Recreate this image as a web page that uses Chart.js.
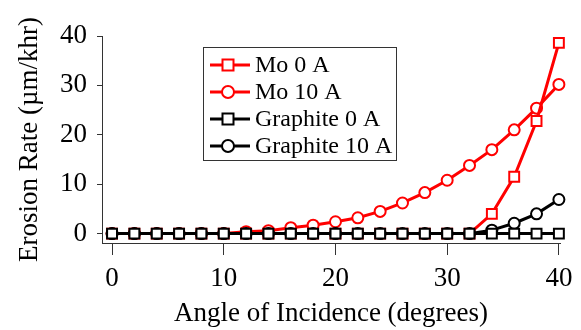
<!DOCTYPE html>
<html>
<head>
<meta charset="utf-8">
<script src="https://cdn.jsdelivr.net/npm/chart.js@4/dist/chart.umd.min.js"></script>
<style>
  html, body { margin: 0; padding: 0; background: #fff; }
  #wrap { width: 581px; height: 330px; }
</style>
</head>
<body>
<div id="wrap"><canvas id="erosionChart" width="581" height="330"></canvas></div>
<script>
// angle of incidence (degrees)
const angles = [0, 2, 4, 6, 8, 10, 12, 14, 16, 18, 20, 22, 24, 26, 28, 30, 32, 34, 36, 38, 40];

// erosion rate (um/khr)
const mo0A = [0, 0, 0, 0, 0, 0, 0, 0, 0, 0, 0, 0, 0, 0, 0, 0, 0, 4.0, 11.5, 22.8, 38.6];
const mo10A = [0, 0, 0, 0, 0, 0, 0.4, 0.6, 1.2, 1.7, 2.4, 3.2, 4.5, 6.2, 8.3, 10.8, 13.8, 17.0, 21.0, 25.4, 30.2];
const graphite0A = [0, 0, 0, 0, 0, 0, 0, 0, 0, 0, 0, 0, 0, 0, 0, 0, 0, 0, 0, 0, 0];
const graphite10A = [0, 0, 0, 0, 0, 0, 0, 0, 0, 0, 0, 0, 0, 0, 0, 0, 0, 0.7, 2.1, 4.0, 6.9];

const seriesNames = ["Mo 0 A", "Mo 10 A", "Graphite 0 A", "Graphite 10 A"];
const xTicks = [0, 10, 20, 30, 40];
const yTicks = [0, 10, 20, 30, 40];

const FONT = "'Liberation Serif', 'Times New Roman', serif";

function pts(ys) {
    return angles.map(function (a, i) { return { x: a, y: ys[i] }; });
}

function series(label, ys, color, style, order) {
    return {
        label: label,
        data: pts(ys),
        showLine: true,
        borderColor: color,
        backgroundColor: "#fff",
        borderWidth: 3,
        pointStyle: style,
        pointRadius: style === "rect" ? 7 : 5.5,
        pointBorderWidth: 2,
        pointBorderColor: color,
        pointBackgroundColor: "#fff",
        tension: 0,
        fill: false,
        clip: false,
        order: order
    };
}

// legend box with a border, like the original
const boxLegend = {
    id: "boxLegend",
    afterDraw: function (chart) {
        const ctx = chart.ctx;
        const area = chart.chartArea;
        const left = Math.round(area.left) + 101, top = Math.round(area.top) + 11;
        const w = 193, h = 113, rowH = 27;
        ctx.save();
        ctx.fillStyle = "#fff";
        ctx.fillRect(left, top, w, h);
        ctx.strokeStyle = "#333";
        ctx.lineWidth = 1;
        ctx.strokeRect(left + 0.5, top + 0.5, w, h);
        chart.data.datasets.forEach(function (ds, i) {
            const cy = top + 18 + i * rowH;
            const lx = left + 7;
            const mx = lx + 18;
            ctx.strokeStyle = ds.borderColor;
            ctx.lineWidth = 3;
            ctx.beginPath();
            ctx.moveTo(lx, cy);
            ctx.lineTo(lx + 40, cy);
            ctx.stroke();
            ctx.lineWidth = 2;
            ctx.fillStyle = "#fff";
            ctx.beginPath();
            if (ds.pointStyle === "rect") {
                ctx.rect(mx - 5.5, cy - 5.5, 11, 11);
            } else {
                ctx.arc(mx, cy, 6, 0, Math.PI * 2);
            }
            ctx.fill();
            ctx.stroke();
            ctx.fillStyle = "#000";
            ctx.font = "24px " + FONT;
            ctx.textBaseline = "middle";
            ctx.textAlign = "left";
            ctx.fillText(ds.label, lx + 45, cy + 1);
        });
        ctx.restore();
    }
};

document.addEventListener("DOMContentLoaded", function () {
    const ctx = document.getElementById("erosionChart").getContext("2d");

    new Chart(ctx, {
        type: "scatter",
        data: {
            datasets: [
                series(seriesNames[0], mo0A, "#ff0000", "rect", 2),
                series(seriesNames[1], mo10A, "#ff0000", "circle", 3),
                series(seriesNames[2], graphite0A, "#000000", "rect", 0),
                series(seriesNames[3], graphite10A, "#000000", "circle", 1)
            ]
        },
        options: {
            responsive: false,
            animation: false,
            devicePixelRatio: 1,
            layout: { padding: { left: 14, right: 21, top: 36, bottom: 0 } },
            plugins: {
                legend: { display: false },
                tooltip: { enabled: false }
            },
            scales: {
                x: {
                    type: "linear",
                    min: -0.9,
                    max: 40.1,
                    afterBuildTicks: function (axis) {
                        axis.ticks = xTicks.map(function (v) { return { value: v }; });
                    },
                    afterFit: function (axis) {
                        axis.height = 87;
                    },
                    ticks: {
                        color: "#000",
                        font: { family: FONT, size: 27 },
                        padding: 8,
                        maxRotation: 0
                    },
                    grid: {
                        drawOnChartArea: false,
                        drawTicks: true,
                        tickLength: 12,
                        tickWidth: 1,
                        color: "#333"
                    },
                    border: { display: true, color: "#333", width: 1 },
                    title: {
                        display: true,
                        text: "Angle of Incidence (degrees)",
                        color: "#000",
                        font: { family: FONT, size: 27 },
                        padding: { top: 0, bottom: 0 }
                    }
                },
                y: {
                    type: "linear",
                    min: -1.9,
                    max: 40,
                    afterBuildTicks: function (axis) {
                        axis.ticks = yTicks.map(function (v) { return { value: v }; });
                    },
                    afterFit: function (axis) {
                        axis.width = 88;
                    },
                    ticks: {
                        color: "#000",
                        font: { family: FONT, size: 27 },
                        padding: 10
                    },
                    grid: {
                        drawOnChartArea: false,
                        drawTicks: true,
                        tickLength: 5,
                        tickWidth: 1,
                        color: "#333"
                    },
                    border: { display: true, color: "#333", width: 1 },
                    title: {
                        display: true,
                        text: "Erosion Rate (\u00b5m/khr)",
                        color: "#000",
                        font: { family: FONT, size: 27 },
                        padding: { top: 0, bottom: 0 }
                    }
                }
            }
        },
        plugins: [boxLegend]
    });
});
</script>
</body>
</html>
